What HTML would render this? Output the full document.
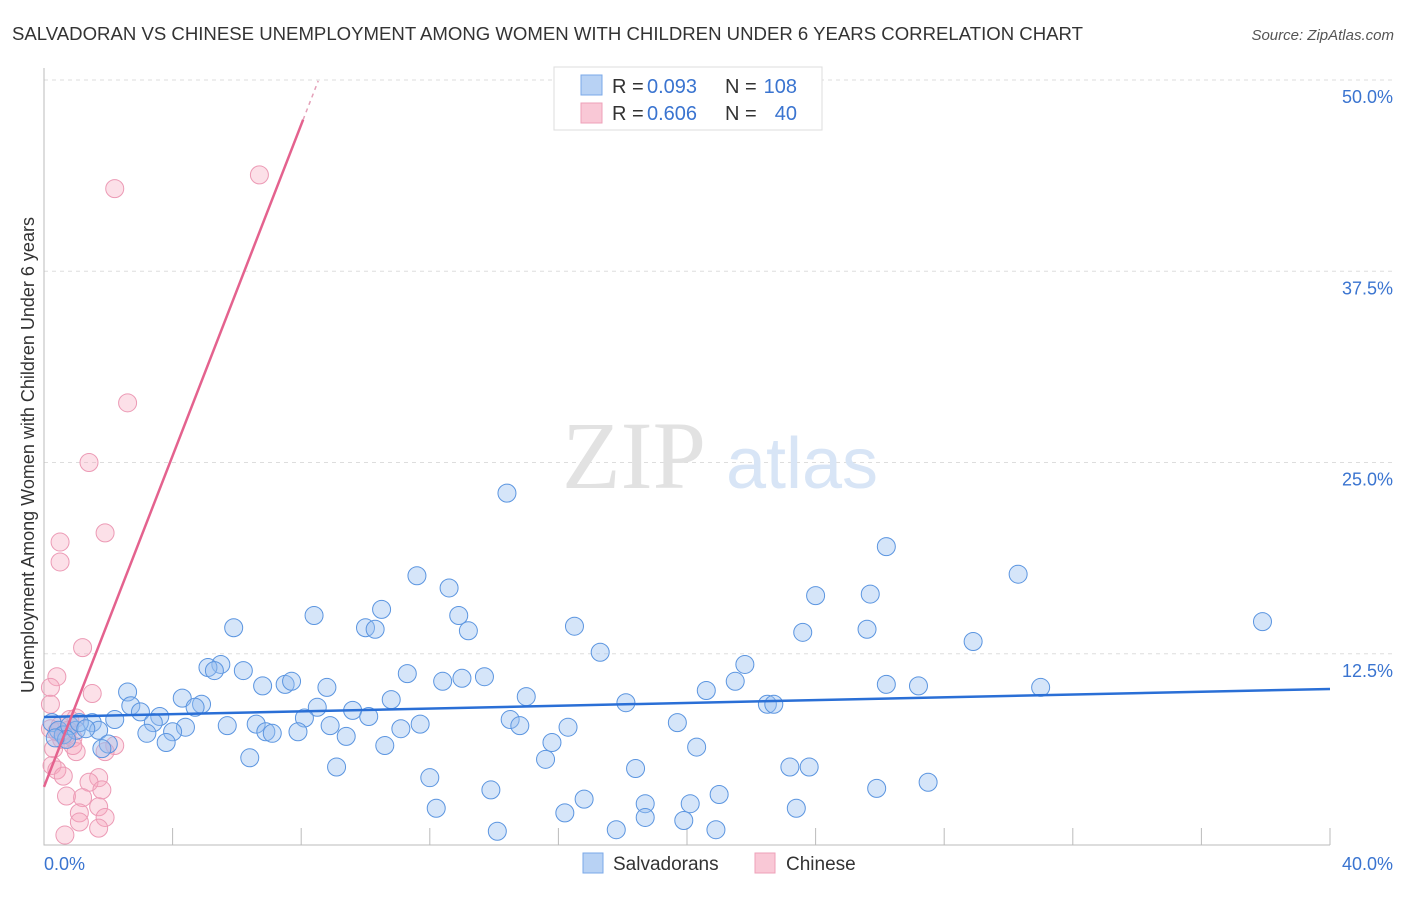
<!DOCTYPE html>
<html><head><meta charset="utf-8"><style>
body{margin:0;background:#fff;font-family:"Liberation Sans",sans-serif;}
svg text{font-family:"Liberation Sans",sans-serif;}
</style></head><body>
<svg width="1406" height="892">
<text x="12" y="40" font-size="18" fill="#333" textLength="1071" lengthAdjust="spacingAndGlyphs">SALVADORAN VS CHINESE UNEMPLOYMENT AMONG WOMEN WITH CHILDREN UNDER 6 YEARS CORRELATION CHART</text>
<text x="1394" y="40" font-size="15" fill="#555" font-style="italic" text-anchor="end">Source: ZipAtlas.com</text>
<g id="grid"></g>
<text x="634" y="488" font-size="96" fill="#e2e2e2" text-anchor="middle" style="font-family:'Liberation Serif',serif">ZIP</text>
<text x="802" y="488" font-size="72" fill="#d8e5f6" text-anchor="middle">atlas</text>
<text transform="translate(34,455) rotate(-90)" font-size="18" fill="#333" text-anchor="middle">Unemployment Among Women with Children Under 6 years</text>
<g id="marks"></g>
<g>
<rect x="554" y="67" width="268" height="63" fill="#fff" stroke="#ddd"/>
<rect x="581" y="75" width="21" height="20" fill="#b8d2f4" stroke="#7aa8e8"/>
<text x="612" y="93" font-size="20" fill="#333">R =</text>
<text x="647" y="93" font-size="20" fill="#3a74d0">0.093</text>
<text x="725" y="93" font-size="20" fill="#333">N =</text>
<text x="797" y="93" font-size="20" fill="#3a74d0" text-anchor="end">108</text>
<rect x="581" y="103" width="21" height="20" fill="#f9c8d6" stroke="#eea0b8"/>
<text x="612" y="120" font-size="20" fill="#333">R =</text>
<text x="647" y="120" font-size="20" fill="#3a74d0">0.606</text>
<text x="725" y="120" font-size="20" fill="#333">N =</text>
<text x="797" y="120" font-size="20" fill="#3a74d0" text-anchor="end">40</text>
</g>
<g>
<rect x="583" y="853" width="20" height="20" fill="#b8d2f4" stroke="#7aa8e8"/>
<text x="613" y="870" font-size="19" fill="#333">Salvadorans</text>
<rect x="755" y="853" width="20" height="20" fill="#f9c8d6" stroke="#eea0b8"/>
<text x="786" y="870" font-size="19" fill="#333">Chinese</text>
</g>
</svg>
<script>
const yTicks=[12.5,25,37.5,50];
const yTickLabels=["12.5%","25.0%","37.5%","50.0%"];
const xTickCount=10;
const xLabels=["0.0%","40.0%"];
const blueX=[14.4,26.2,30.3,11.6,12.6,24.0,25.7,8.4,10.5,12.9,5.9,10.0,10.3,13.2,16.5,23.6,25.6,37.9,28.9,17.3,5.5,5.1,6.2,21.8,11.3,5.3,12.4,13.0,13.7,6.8,7.5,7.7,8.8,26.2,27.2,31.0,20.6,21.5,2.6,4.3,4.9,10.8,15.0,18.1,22.5,22.7,2.7,3.0,3.6,4.7,8.5,8.1,9.6,10.1,14.5,2.2,1.5,3.4,8.9,11.1,11.7,14.8,16.3,19.7,5.7,6.6,4.4,3.2,4.0,6.9,7.1,7.9,9.4,15.8,1.7,2.0,1.8,3.8,10.6,20.3,6.4,15.6,9.1,18.4,23.2,23.8,12.0,13.9,21.0,25.9,27.5,16.8,18.7,20.1,12.2,23.4,16.2,18.7,19.9,14.1,17.8,20.9,0.25,0.45,0.6,0.8,1.0,1.1,0.7,0.35,1.3];
const blueY=[23.0,19.5,17.7,17.6,16.8,16.3,16.4,15.0,15.4,15.0,14.2,14.2,14.1,14.0,14.3,13.9,14.1,14.6,13.3,12.6,11.8,11.6,11.4,11.8,11.2,11.4,10.7,10.9,11.0,10.4,10.5,10.7,10.3,10.5,10.4,10.3,10.1,10.7,10.0,9.6,9.2,9.5,9.7,9.3,9.2,9.2,9.1,8.7,8.4,9.0,9.0,8.3,8.8,8.4,8.2,8.2,8.0,8.0,7.8,7.6,7.9,7.8,7.7,8.0,7.8,7.9,7.7,7.3,7.4,7.4,7.3,7.4,7.1,6.7,7.5,6.6,6.3,6.7,6.5,6.4,5.7,5.6,5.1,5.0,5.1,5.1,4.4,3.6,3.3,3.7,4.1,3.0,2.7,2.7,2.4,2.4,2.1,1.8,1.6,0.9,1.0,1.0,8.0,7.5,7.2,7.8,7.5,8.0,6.9,7.0,7.6];
const pinkX=[2.2,6.7,2.6,1.4,1.9,0.5,0.5,1.2,0.4,0.2,1.5,0.2,1.0,0.5,0.55,0.9,0.2,0.7,2.2,1.9,1.0,0.25,0.4,0.6,1.7,1.4,1.8,0.7,1.2,1.7,1.1,1.9,1.1,1.7,0.65,0.8,0.4,0.75,0.3,0.9];
const pinkY=[42.9,43.8,28.9,25.0,20.4,19.8,18.5,12.9,11.0,10.3,9.9,9.2,8.3,7.8,6.9,7.0,7.6,7.2,6.5,6.1,6.1,5.2,4.9,4.5,4.4,4.1,3.6,3.2,3.1,2.5,2.1,1.8,1.5,1.1,0.65,8.2,7.4,7.5,6.3,6.5];
const blueTrend=[8.37,10.2];
const pinkTrend=[3.8,5.41];
const NS="http://www.w3.org/2000/svg";
const X0=44,X1=1330,Y0=845,YTOP=80;
function sx(v){return X0+v/40*(X1-X0);}
function sy(v){return Y0-v/50*(Y0-YTOP);}
function mk(t,a,p){const e=document.createElementNS(NS,t);for(const k in a)e.setAttribute(k,a[k]);p.appendChild(e);return e;}
const grid=document.getElementById('grid'),marks=document.getElementById('marks');
yTicks.forEach((t,i)=>{
 const l=mk('line',{x1:X0,x2:1394,y1:sy(t),y2:sy(t),stroke:'#ddd','stroke-dasharray':'4,4'},grid);
 
 
 const tx=mk('text',{x:1393,y:sy(t)+23,'font-size':18,fill:'#3a74d0','text-anchor':'end'},grid);
 tx.textContent=yTickLabels[i];
 
 
});
const ax=mk('path',{d:`M${X0},68V${Y0}H${X1}`,stroke:'#bbb',fill:'none'},grid);


for(let i=1;i<=xTickCount;i++){
 const t=mk('line',{x1:sx(i*4),x2:sx(i*4),y1:828,y2:Y0,stroke:'#bbb'},grid);
 
 
}
const xl0=mk('text',{x:44,y:870,'font-size':18,fill:'#3a74d0'},grid);xl0.textContent=xLabels[0];


const xl1=mk('text',{x:1393,y:870,'font-size':18,fill:'#3a74d0','text-anchor':'end'},grid);xl1.textContent=xLabels[1];


pinkX.forEach((x,i)=>{
 const c=mk('circle',{cx:sx(x),cy:sy(pinkY[i]),r:9,fill:'rgba(245,165,190,0.35)',stroke:'#ec9ab5','stroke-width':1},marks);
 
 
});
blueX.forEach((x,i)=>{
 const c=mk('circle',{cx:sx(x),cy:sy(blueY[i]),r:9,fill:'rgba(150,190,240,0.4)',stroke:'#5b95e0','stroke-width':1},marks);
 
 
});
const bt=mk('line',{x1:sx(0),y1:sy(blueTrend[0]),x2:sx(40),y2:sy(blueTrend[1]),stroke:'#2a6fd6','stroke-width':2.5},marks);


const xe=8.06,xd=8.53;
const pt=mk('line',{x1:sx(0),y1:sy(pinkTrend[0]),x2:sx(xe),y2:sy(pinkTrend[0]+pinkTrend[1]*xe),stroke:'#e4628e','stroke-width':2.5},marks);


const pd=mk('line',{x1:sx(xe),y1:sy(pinkTrend[0]+pinkTrend[1]*xe),x2:sx(xd),y2:sy(pinkTrend[0]+pinkTrend[1]*xd),stroke:'#e4a0b8','stroke-width':1.5,'stroke-dasharray':'4,4'},marks);


</script>
</body></html>
